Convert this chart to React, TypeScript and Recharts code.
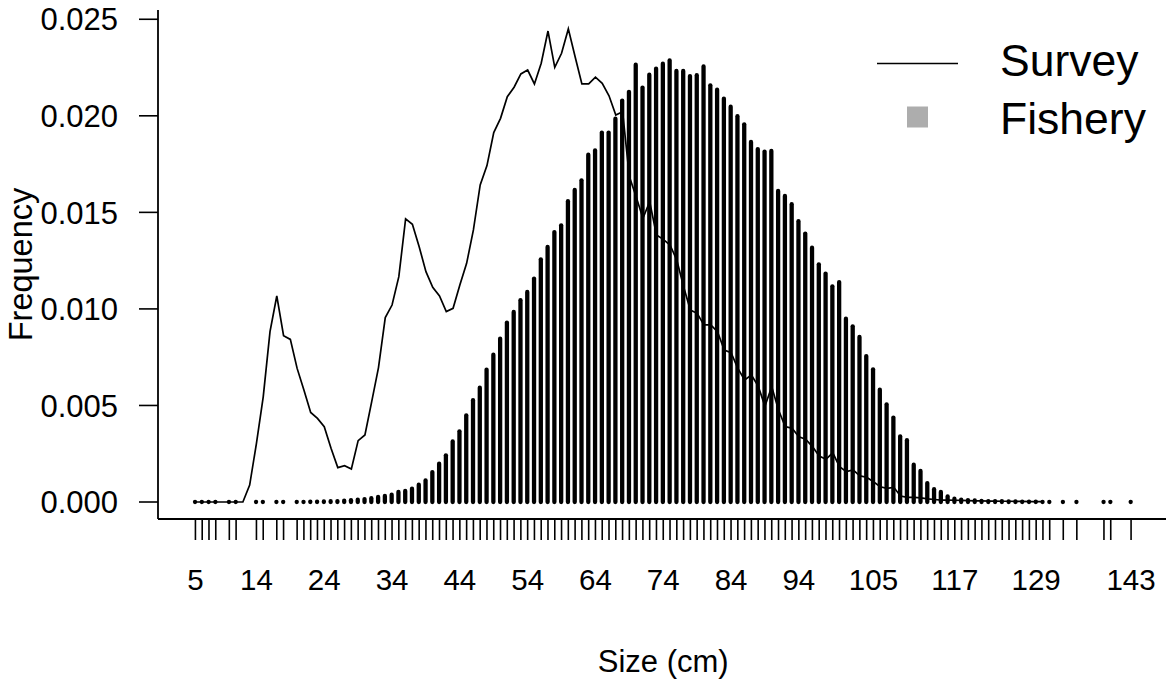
import { ComposedChart, Bar, Line, XAxis, YAxis } from 'recharts'

const FONT = '"Liberation Sans", Arial, Helvetica, sans-serif'

// fishery length classes (cm) and their proportions
const fisherySizes = [
  5, 6, 7, 8, 10, 11, 14, 15, 17, 18,
  20, 21, 22, 23, 24, 25, 26, 27, 28, 29,
  30, 31, 32, 33, 34, 35, 36, 37, 38, 39,
  40, 41, 42, 43, 44, 45, 46, 47, 48, 49,
  50, 51, 52, 53, 54, 55, 56, 57, 58, 59,
  60, 61, 62, 63, 64, 65, 66, 67, 68, 69,
  70, 71, 72, 73, 74, 75, 76, 77, 78, 79,
  80, 81, 82, 83, 84, 85, 86, 87, 88, 89,
  90, 91, 92, 93, 94, 95, 96, 97, 98, 99,
  100, 101, 102, 103, 104, 105, 106, 107, 108, 109,
  110, 111, 112, 113, 114, 115, 116, 117, 118, 119,
  120, 121, 122, 123, 124, 125, 126, 127, 128, 129,
  130, 131, 133, 135, 139, 140, 143,
]
const fisheryFreq = [
  0.00001, 0.00001, 0.00001, 0.00001, 0.00001, 0.00001, 0.00001, 0.00001, 0.00001, 0.00001,
  0.00001, 0.00001, 0.00002, 0.00002, 0.00003, 0.00004, 0.00005, 0.00007, 0.00009, 0.00012,
  0.00015, 0.0002, 0.00026, 0.00031, 0.00038, 0.00052, 0.00057, 0.00069, 0.0009, 0.00112,
  0.00155, 0.00198, 0.00242, 0.00314, 0.00366, 0.00449, 0.00527, 0.00592, 0.00685, 0.00763,
  0.00846, 0.00929, 0.00984, 0.01045, 0.01088, 0.01157, 0.01257, 0.01321, 0.01398, 0.01433,
  0.01558, 0.01616, 0.01666, 0.01799, 0.01821, 0.01913, 0.01913, 0.01985, 0.02079, 0.02124,
  0.02265, 0.02146, 0.02213, 0.02244, 0.0227, 0.02287, 0.02232, 0.02232, 0.02206, 0.0221,
  0.02256, 0.02158, 0.02135, 0.02089, 0.02047, 0.01998, 0.01956, 0.01865, 0.01828, 0.01815,
  0.01818, 0.01611, 0.01585, 0.01542, 0.01454, 0.0139, 0.01317, 0.01231, 0.01183, 0.01117,
  0.01139, 0.00949, 0.0091, 0.00855, 0.00756, 0.00687, 0.00582, 0.00506, 0.00437, 0.0034,
  0.0032, 0.00193, 0.00161, 0.00098, 0.00066, 0.00052, 0.00029, 0.00017, 0.00012, 0.0001,
  0.00008, 0.00006, 0.00005, 0.00004, 0.00004, 0.00003, 0.00003, 0.00002, 0.00002, 0.00002,
  0.00001, 0.00001, 0.00001, 0.00001, 0.00001, 0.00001, 0.00001,
]

// survey covers every 1 cm class from 5 to 130
const surveySizes = [
  5, 6, 7, 8, 9, 10, 11, 12, 13, 14,
  15, 16, 17, 18, 19, 20, 21, 22, 23, 24,
  25, 26, 27, 28, 29, 30, 31, 32, 33, 34,
  35, 36, 37, 38, 39, 40, 41, 42, 43, 44,
  45, 46, 47, 48, 49, 50, 51, 52, 53, 54,
  55, 56, 57, 58, 59, 60, 61, 62, 63, 64,
  65, 66, 67, 68, 69, 70, 71, 72, 73, 74,
  75, 76, 77, 78, 79, 80, 81, 82, 83, 84,
  85, 86, 87, 88, 89, 90, 91, 92, 93, 94,
  95, 96, 97, 98, 99, 100, 101, 102, 103, 104,
  105, 106, 107, 108, 109, 110, 111, 112, 113, 114,
  115, 116, 117, 118, 119, 120, 121, 122, 123, 124,
  125, 126, 127, 128, 129, 130,
]
const surveyFreq = [
  0, 0, 0, 0, 0, 0, 0, 0, 0.00088, 0.00304,
  0.00545, 0.00882, 0.01067, 0.00861, 0.00842, 0.00692, 0.0058, 0.00464, 0.00433, 0.0039,
  0.00278, 0.00178, 0.00188, 0.00171, 0.00318, 0.00347, 0.0052, 0.00696, 0.00955, 0.0102,
  0.01167, 0.01466, 0.01438, 0.01322, 0.01193, 0.01112, 0.01067, 0.00986, 0.01003, 0.01124,
  0.01236, 0.01409, 0.01642, 0.01742, 0.01913, 0.01987, 0.02099, 0.02148, 0.02217, 0.02237,
  0.02165, 0.02272, 0.02439, 0.02251, 0.02324, 0.0245, 0.02306, 0.02165, 0.02165, 0.022,
  0.02168, 0.02104, 0.02004, 0.02021, 0.01685, 0.01581, 0.01469, 0.01555, 0.01383, 0.0136,
  0.01331, 0.01253, 0.01115, 0.00994, 0.00977, 0.00917, 0.00917, 0.00882, 0.00787, 0.00773,
  0.00692, 0.00632, 0.00658, 0.006, 0.00497, 0.00597, 0.00476, 0.0039, 0.00382, 0.00338,
  0.00325, 0.00287, 0.00238, 0.00221, 0.00255, 0.00183, 0.00157, 0.00166, 0.00135, 0.00128,
  0.00105, 0.00079, 0.00071, 0.00076, 0.00031, 0.00024, 0.00024, 0.00021, 0.00016, 0.00013,
  0.0001, 0.0001, 0.00009, 0.00008, 0.00007, 0.00006, 0.00006, 0.00005, 0.00005, 0.00004,
  0.00004, 0.00003, 0.00003, 0.00002, 0.00002, 0.00002,
]

const sizeLabels = [5, 14, 24, 34, 44, 54, 64, 74, 84, 94, 105, 117, 129, 143]
const freqTicks = [0, 0.005, 0.01, 0.015, 0.02, 0.025]
const seriesNames = ['Survey', 'Fishery']

type Row = { size: number; survey?: number; fishery?: number }

// merge both series onto one size-keyed table
const rows: Row[] = (() => {
  const bySize = new Map<number, Row>()
  surveySizes.forEach((s, i) => bySize.set(s, { size: s, survey: surveyFreq[i] }))
  fisherySizes.forEach((s, i) => {
    const r = bySize.get(s) ?? { size: s }
    r.fishery = fisheryFreq[i]
    bySize.set(s, r)
  })
  return [...bySize.values()].sort((a, b) => a.size - b.size)
})()

// thick vertical stick, like R's type = "h"
function Stick(props: any) {
  const { x, y, width, height, payload } = props
  if (payload?.fishery == null) return <g />
  const cx = x + width / 2
  return (
    <line x1={cx} x2={cx} y1={y} y2={y + height} stroke="#000"
      strokeWidth={4.3} strokeLinecap="round" />
  )
}

function SizeTick(props: any) {
  const { x, y, payload } = props
  const v = payload.value
  return (
    <g>
      <line x1={x} x2={x} y1={y} y2={y + 21} stroke="#000" strokeWidth={1.6} />
      {sizeLabels.includes(v) && (
        <text x={x} y={y + 71} textAnchor="middle" fontSize={29.5} fontFamily={FONT} fill="#000">
          {v}
        </text>
      )}
    </g>
  )
}

function FreqTick(props: any) {
  const { x, y, payload } = props
  return (
    <g>
      <line x1={x - 19} x2={x} y1={y} y2={y} stroke="#000" strokeWidth={1.6} />
      <text x={x - 40} y={y} dy="0.36em" textAnchor="end" fontSize={31} fontFamily={FONT} fill="#000">
        {Number(payload.value).toFixed(3)}
      </text>
    </g>
  )
}

export default function App() {
  return (
    <div style={{ position: 'fixed', left: 0, top: 0, width: 1166, height: 679, overflow: 'hidden', background: '#fff' }}>
      <ComposedChart width={1170} height={679} data={rows}
        margin={{ top: 10, right: 1.5, bottom: 0, left: 0 }}>
        <XAxis dataKey="size" type="number" domain={[-0.52, 148.52]} allowDataOverflow
          ticks={fisherySizes} interval={0} height={160} tickSize={0} tickMargin={0}
          tickLine={false} axisLine={{ stroke: '#000', strokeWidth: 1.8 }}
          tick={(p: any) => <SizeTick {...p} />}
          label={{
            content: () => (
              <text x={663.25} y={672} textAnchor="middle" fontSize={31} fontFamily={FONT} fill="#000">
                Size (cm)
              </text>
            ),
          }} />
        <XAxis xAxisId="top" orientation="top" dataKey="size" type="number" domain={[-0.52, 148.52]}
          allowDataOverflow height={0} tick={false} tickLine={false}
          axisLine={{ stroke: '#000', strokeWidth: 1.8 }} />
        <YAxis type="number" domain={[-0.00088, 0.02548]} allowDataOverflow ticks={freqTicks}
          interval={0} width={158} tickSize={0} tickMargin={0} tickLine={false}
          axisLine={{ stroke: '#000', strokeWidth: 1.8 }}
          tick={(p: any) => <FreqTick {...p} />}
          label={{
            content: () => (
              <text x={32} y={264.5} transform="rotate(-90 32 264.5)" textAnchor="middle"
                fontSize={32.5} fontFamily={FONT} fill="#000">
                Frequency
              </text>
            ),
          }} />
        <Bar dataKey="fishery" barSize={4} shape={<Stick />} isAnimationActive={false} />
        <Line dataKey="survey" type="linear" stroke="#000" strokeWidth={1.7} dot={false}
          activeDot={false} isAnimationActive={false} />
      </ComposedChart>
      <svg width={1166} height={679} style={{ position: 'absolute', left: 0, top: 0, pointerEvents: 'none' }}>
        <line x1={877} x2={958} y1={63.5} y2={63.5} stroke="#000" strokeWidth={1.7} />
        <text x={1000} y={76} fontSize={44.5} fontFamily={FONT} fill="#000">{seriesNames[0]}</text>
        <rect x={907} y={106.5} width={21} height={21} fill="#ADADAD" />
        <text x={1000} y={134} fontSize={44.5} fontFamily={FONT} fill="#000">{seriesNames[1]}</text>
      </svg>
    </div>
  )
}
